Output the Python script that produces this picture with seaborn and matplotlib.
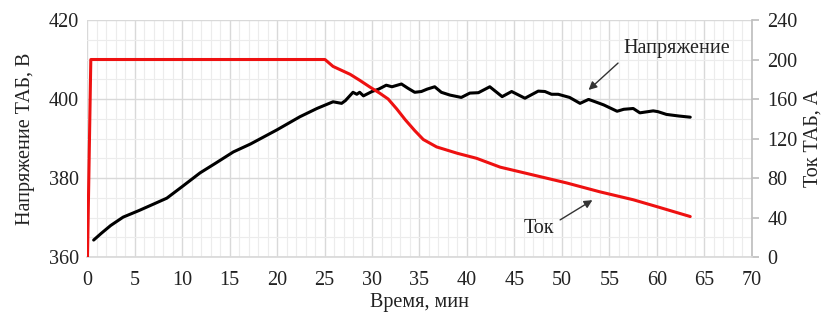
import matplotlib
matplotlib.use("Agg")
import matplotlib.pyplot as plt
from matplotlib.ticker import MultipleLocator
import seaborn as sns


# 1 DATA

volt_time = [0.7, 1.5, 2.5, 3.8, 5.5, 7.0, 8.4, 10.0, 11.9, 13.5, 15.4, 17.2,
             20.0, 22.4, 24.2, 25.9, 26.8, 27.2, 28.0, 28.4, 28.7, 29.1, 30.0,
             30.7, 31.5, 32.1, 33.1, 33.8, 34.5, 35.2, 35.8, 36.6, 37.3, 38.2,
             39.4, 40.3, 41.2, 42.4, 43.7, 44.7, 46.1, 47.5, 48.2, 48.9, 49.6,
             50.8, 51.9, 52.8, 53.5, 54.4, 55.8, 56.5, 57.5, 58.2, 59.6, 60.1,
             61.0, 62.3, 63.5]
voltage = [364.3, 366.0, 368.0, 370.1, 371.8, 373.4, 374.9, 377.8, 381.3, 383.7,
           386.6, 388.6, 392.2, 395.5, 397.6, 399.3, 398.9, 399.6, 401.7, 401.2,
           401.7, 400.8, 401.9, 402.5, 403.5, 403.1, 403.8, 402.7, 401.7, 401.9,
           402.5, 403.1, 401.7, 401.0, 400.4, 401.5, 401.6, 403.1, 400.6, 401.9,
           400.2, 402.0, 401.9, 401.2, 401.2, 400.4, 398.9, 399.9, 399.3, 398.5,
           396.9, 397.4, 397.6, 396.5, 397.0, 396.8, 396.1, 395.7, 395.4]

curr_time = [0.05, 0.4, 25.05, 25.9, 27.7, 28.7, 29.8, 30.8, 31.7, 32.6, 33.5,
             34.5, 35.4, 36.8, 39.0, 41.0, 43.5, 47.0, 50.5, 54.0, 57.5, 60.0,
             63.5]
current = [0, 200, 200, 193, 185, 179, 172, 166, 160, 150, 139,
           128, 119, 111.5, 105, 100, 91, 83, 75, 66, 58, 51, 41]

x_ticks = list(range(0, 71, 5))
volt_ticks = [360, 380, 400, 420]
curr_ticks = [0, 40, 80, 120, 160, 200, 240]


# 2 STYLE

sns.set_theme(style="white")
plt.rcParams["font.family"] = ["Liberation Serif", "DejaVu Serif"]
plt.rcParams["font.size"] = 14

fig, ax = plt.subplots(figsize=(8.24, 3.15), dpi=100)
fig.subplots_adjust(left=0.1056, right=0.9126, top=0.9365, bottom=0.184)
ax2 = ax.twinx()


# 3 GRID AND AXES

ax.set_xlim(0, 70)
ax.set_ylim(360, 420)
ax2.set_ylim(0, 240)
ax.set_xticks(x_ticks)
ax.set_yticks(volt_ticks)
ax2.set_yticks(curr_ticks)
ax.xaxis.set_minor_locator(MultipleLocator(1))
ax.yaxis.set_minor_locator(MultipleLocator(5))

ax.grid(which="major", color="#d9d9d9", linewidth=1.0)
ax.grid(which="minor", color="#ececec", linewidth=0.8)
ax.set_axisbelow(True)

for a in (ax, ax2):
    for s in a.spines.values():
        s.set_visible(False)
ax2.spines["right"].set_visible(True)
ax2.spines["right"].set_color("#bfbfbf")
ax2.spines["bottom"].set_visible(True)
ax2.spines["bottom"].set_color("#d9d9d9")

ax.tick_params(axis="both", which="both", length=0, labelsize=14.5, colors="#222222")
ax.tick_params(axis="x", pad=10)
ax.tick_params(axis="y", pad=6)
ax2.tick_params(axis="y", which="major", length=5, color="#bfbfbf",
                direction="out", labelsize=14.5, labelcolor="#222222", pad=6)
ax2.tick_params(axis="y", which="minor", length=0)


# 4 LINES

sns.lineplot(x=volt_time, y=voltage, ax=ax, color="black", linewidth=2.2,
             zorder=3)
sns.lineplot(x=curr_time, y=current, ax=ax2, color="#ee1111", linewidth=2.2,
             zorder=3)

ax.set_xlabel("Время, мин", fontsize=14.5, color="#222222", labelpad=2)
ax.set_ylabel("Напряжение ТАБ, В", fontsize=14.5, color="#222222", labelpad=10)
ax2.set_ylabel("Ток ТАБ, А", fontsize=14.5, color="#222222", labelpad=4)


# 5 ANNOTATIONS

arrow = dict(arrowstyle="-|>", color="#333333", lw=1.0,
             shrinkA=0, shrinkB=0, mutation_scale=12)

ax.text(62.1, 412.9, "Напряжение", ha="center", va="center",
        fontsize=14.5, color="#222222")
ax.annotate("", xy=(52.8, 402.3), xytext=(55.9, 409.1), arrowprops=arrow)

ax.text(47.6, 367.3, "Ток", ha="center", va="center",
        fontsize=14.5, color="#222222")
ax.annotate("", xy=(53.2, 374.4), xytext=(49.8, 369.4), arrowprops=arrow)

plt.savefig("out.png", dpi=100)
